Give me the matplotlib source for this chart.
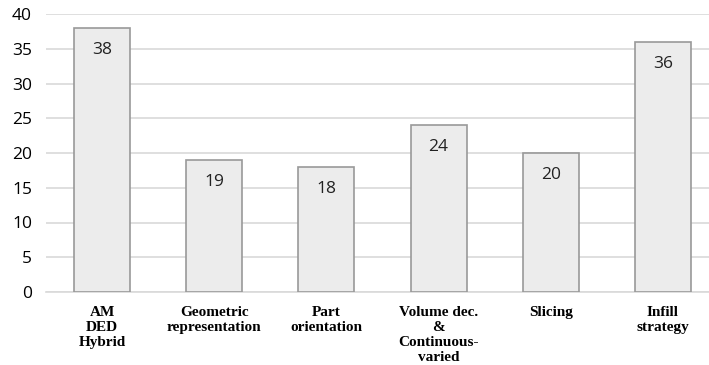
import matplotlib
matplotlib.use('Agg')
import matplotlib.pyplot as plt

categories = ['AM\nDED\nHybrid', 'Geometric\nrepresentation', 'Part\norientation',
              'Volume dec.\n&\nContinuous-\nvaried', 'Slicing', 'Infill\nstrategy']
counts = [38, 19, 18, 24, 20, 36]
yticks = [0, 5, 10, 15, 20, 25, 30, 35, 40]

W, H = 709, 365
fig = plt.figure(figsize=(W / 100, H / 100), dpi=100)
# plot area runs a little past the right edge of the canvas
ax = fig.add_axes([46 / W, 73 / H, 673 / W, 278 / H])

x = range(len(categories))
bars = ax.bar(x, counts, width=0.5, color='#ececec', edgecolor='#999999',
              linewidth=1.2, zorder=3)
for b, v in zip(bars, counts):
    ax.text(b.get_x() + b.get_width() / 2, v - 2.0, str(v), ha='center', va='top',
            fontsize=12.5, family='Open Sans', color='#222222', zorder=4)

ax.set_xlim(-0.5, len(categories) - 0.5)
ax.set_ylim(0, 40)
ax.set_yticks(yticks)
ax.set_yticklabels([str(t) for t in yticks], fontsize=12.5, family='Open Sans')
ax.yaxis.grid(True, color='#d9d9d9', linewidth=1.2, zorder=0)
ax.set_xticks(list(x))
ax.set_xticklabels(categories, fontsize=11, family='Liberation Serif',
                   fontweight='bold', linespacing=1.22)
ax.tick_params(axis='both', length=0)
ax.tick_params(axis='y', pad=10)
ax.tick_params(axis='x', pad=10)
for s in ['top', 'right', 'left']:
    ax.spines[s].set_visible(False)
ax.spines['bottom'].set_color('#d9d9d9')
ax.spines['bottom'].set_linewidth(1.2)

fig.savefig('out.png', dpi=100)
